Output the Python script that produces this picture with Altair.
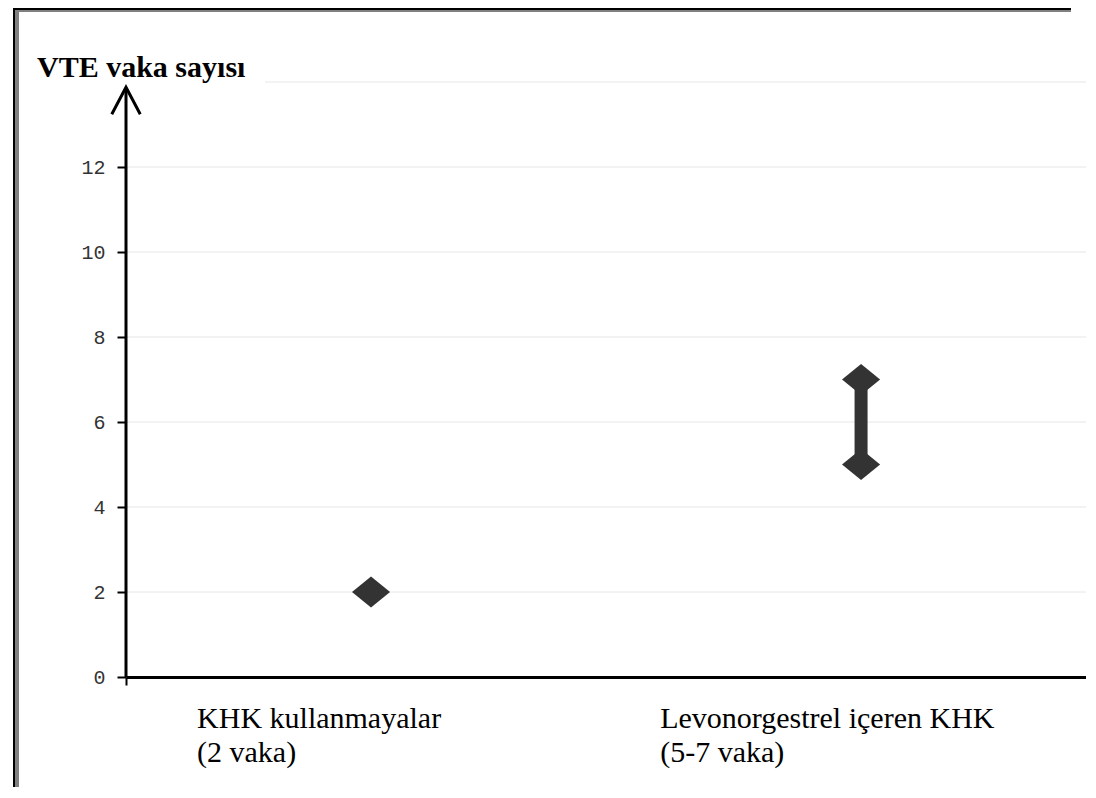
import altair as alt
import pandas as pd

# ---- data ----
categories = ["KHK kullanmayalar\n(2 vaka)", "Levonorgestrel içeren KHK\n(5-7 vaka)"]
cat_pos = [1, 3]          # x position of each group
low = [2, 5]              # lowest case count
high = [2, 7]             # highest case count
label_pos = [0.29, 2.18]  # where each category label starts
y_ticks = [0, 2, 4, 6, 8, 10, 12]
grid_values = [2, 4, 6, 8, 10, 12, 14]
x_domain = [0, 3.918]
y_domain = [0, 14]
axis_top = 13.86
arrow_center = 13.56
y_title = "VTE vaka sayısı"

ranges = pd.DataFrame({"p": cat_pos, "low": low, "high": high})
pts_p, pts_v = [], []
for p, lo, hi in zip(cat_pos, low, high):
    for v in sorted(set([lo, hi])):
        pts_p.append(p)
        pts_v.append(v)
points = pd.DataFrame({"p": pts_p, "v": pts_v})
labels = pd.DataFrame({"lx": label_pos, "label": categories})
grid = pd.DataFrame({"v": grid_values})
one = pd.DataFrame({"a": [0]})

xs = alt.Scale(domain=x_domain, nice=False, zero=False)
ys = alt.Scale(domain=y_domain, nice=False)
x_axis = alt.Axis(values=[0], labels=False, grid=False, domainColor="black", domainWidth=3,
                  tickColor="black", tickWidth=2, tickSize=8, title=None)
y_axis = alt.Axis(values=y_ticks, grid=False, domain=False, tickSize=9, tickWidth=2,
                  tickColor="black", labelFont="Liberation Mono", labelFontSize=20,
                  labelColor="#333333", labelPadding=12, title=None)

grid_layer = alt.Chart(grid).mark_rule(color="#e6e6e6", strokeWidth=1).encode(
    y=alt.Y("v:Q", scale=ys, axis=y_axis),
    x=alt.X("a:Q", scale=xs, axis=x_axis),
    x2="b:Q",
).transform_calculate(a=str(x_domain[0]), b=str(x_domain[1]))

white_box = alt.Chart(one).mark_rect(color="white").encode(
    x=alt.value(-107), x2=alt.value(139), y=alt.value(-60), y2=alt.value(5))


def frame_rect(color, x, x2, y, y2):
    return alt.Chart(one).mark_rect(color=color).encode(
        x=alt.value(x), x2=alt.value(x2), y=alt.value(y), y2=alt.value(y2))


frame_top_black = frame_rect("black", -113, 945, -74, -72)
frame_top_gray = frame_rect("#808080", -111, 945, -72, -70)
frame_left_black = frame_rect("black", -113, -111, -74, 720)
frame_left_gray = frame_rect("#808080", -111, -107, -72, 720)

y_line = alt.Chart(one).mark_rule(color="black", strokeWidth=3).encode(
    x=alt.X("a:Q", scale=xs, axis=x_axis),
    y=alt.Y("y0:Q", scale=ys, axis=y_axis),
    y2="y1:Q",
).transform_calculate(y0="0", y1=str(axis_top))

arrow = alt.Chart(one).mark_point(
    shape="M-0.95,0.9L0,-0.9L0.95,0.9", filled=False, size=900, color="black",
    strokeWidth=3, opacity=1,
).encode(
    x=alt.X("a:Q", scale=xs, axis=x_axis),
    y=alt.Y("yc:Q", scale=ys, axis=y_axis),
).transform_calculate(yc=str(arrow_center))

range_layer = alt.Chart(ranges).mark_rule(color="#333333", strokeWidth=13).encode(
    x=alt.X("p:Q", scale=xs, axis=x_axis),
    y=alt.Y("low:Q", scale=ys, axis=y_axis),
    y2="high:Q",
)

diamonds = alt.Chart(points).mark_point(
    shape="M-1,0L0,-0.82L1,0L0,0.82Z", filled=True, size=1450, color="#333333", opacity=1,
).encode(
    x=alt.X("p:Q", scale=xs, axis=x_axis),
    y=alt.Y("v:Q", scale=ys, axis=y_axis),
)

label_layer = alt.Chart(labels).mark_text(
    align="left", baseline="alphabetic", font="Liberation Serif", fontSize=30,
    lineBreak="\n", lineHeight=34, color="black",
).encode(
    x=alt.X("lx:Q", scale=xs, axis=x_axis),
    y=alt.value(646),
    text="label:N",
)

title_layer = alt.Chart(one).mark_text(
    text=y_title, align="left", baseline="alphabetic", font="Liberation Serif",
    fontSize=30, fontWeight="bold", color="black",
).encode(x=alt.value(-89), y=alt.value(-5))

chart = alt.layer(
    grid_layer, white_box, frame_top_black, frame_top_gray, frame_left_black, frame_left_gray,
    y_line, arrow, range_layer, diamonds, label_layer, title_layer,
).properties(
    width=960, height=595,
    padding={"left": 118, "top": 74, "right": 0, "bottom": 110},
    autosize=alt.AutoSizeParams(type="none"),
    background="white",
).configure_view(stroke=None)

chart.save("out.html", embed_options={"renderer": "svg", "actions": False})
